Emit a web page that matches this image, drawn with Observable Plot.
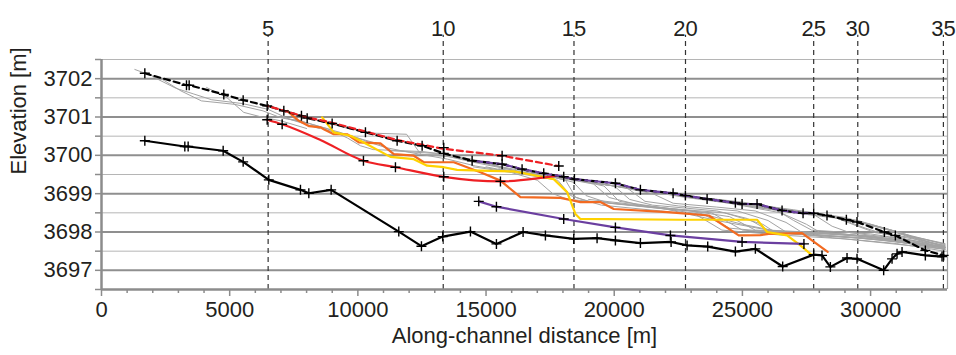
<!DOCTYPE html>
<html><head><meta charset="utf-8">
<script src="https://cdn.jsdelivr.net/npm/d3@7"></script>
<script src="https://cdn.jsdelivr.net/npm/@observablehq/plot@0.6"></script>
<style>body{margin:0;background:#fff}</style>
</head><body><div id="chart"></div>
<script>
// ---- data (along-channel distance [m], elevation [m]) ----
const topProfile = [[1690,3702.14],[3315,3701.83],[3420,3701.83],[4770,3701.59],[5526,3701.44],[6463,3701.29],[7112,3701.16],[7800,3701.03],[8023,3700.97],[8997,3700.83],[10296,3700.60],[11532,3700.38],[12507,3700.25],[13350,3700.05],[14457,3699.86],[15627,3699.77],[16406,3699.64],[17250,3699.53],[18030,3699.44],[18447,3699.38],[20046,3699.27],[21021,3699.10],[22296,3699.01],[22776,3698.95],[23623,3698.86],[24726,3698.76],[24987,3698.73],[25572,3698.73],[26547,3698.56],[27366,3698.49],[27780,3698.49],[28300,3698.43],[29055,3698.32],[29471,3698.26],[30537,3698.00],[30966,3697.91],[32136,3697.52],[32850,3697.39]];
const bottomProfile = [[1690,3700.38],[3250,3700.23],[3380,3700.23],[4746,3700.12],[5526,3699.83],[6526,3699.36],[7761,3699.10],[8087,3699.01],[8958,3699.10],[11596,3698.01],[12480,3697.63],[13311,3697.88],[14391,3698.01],[15405,3697.69],[16445,3698.00],[17316,3697.91],[18422,3697.82],[19331,3697.84],[20046,3697.78],[21021,3697.71],[22218,3697.74],[22842,3697.65],[23647,3697.62],[24726,3697.49],[25506,3697.56],[26571,3697.10],[27780,3697.41],[28105,3697.39],[28431,3697.09],[29081,3697.32],[29471,3697.30],[30510,3697.00],[30837,3697.30],[31032,3697.43],[31227,3697.48],[32136,3697.39],[32786,3697.36]];
const redDashed = [[6463,3701.29],[8023,3700.99],[9000,3700.85],[10300,3700.62],[11532,3700.40],[13350,3700.17],[15627,3699.99],[17836,3699.72]];
const redDashedMarks = [[13350,3700.20],[15627,3699.99],[17836,3699.72]];
const redSolid = [[6463,3700.93],[7047,3700.81],[8541,3700.40],[10218,3699.86],[11466,3699.69],[13350,3699.44],[15561,3699.32],[17121,3699.41],[17770,3699.47]];
const redSolidMarks = [[6463,3700.93],[7047,3700.81],[10218,3699.86],[11466,3699.69],[13350,3699.44],[15561,3699.32]];
const orangeProfile = [[7240,3701.16],[7700,3700.90],[8100,3700.76],[8541,3700.73],[8670,3700.68],[9061,3700.55],[9581,3700.55],[10036,3700.34],[10881,3700.31],[11401,3700.03],[12181,3699.99],[12571,3699.82],[13741,3699.82],[14781,3699.56],[15561,3699.34],[16341,3698.91],[17901,3698.89],[18421,3698.82],[18681,3698.78],[19461,3698.78],[19981,3698.60],[22062,3698.52],[23687,3698.43],[24855,3697.91],[25700,3697.92],[26025,3697.95],[27327,3697.97],[28327,3697.48]];
const yellowProfile = [[8607,3700.99],[9061,3700.60],[9711,3700.51],[10101,3700.38],[11271,3699.96],[12181,3699.90],[12702,3699.73],[13350,3699.69],[13872,3699.62],[14781,3699.60],[16081,3699.58],[16731,3699.50],[17641,3699.38],[18161,3699.04],[18486,3698.47],[18681,3698.34],[22581,3698.32],[25572,3698.32],[25962,3698.00],[26742,3697.91],[27262,3697.65],[27718,3697.39]];
const purpleSolid = [[14715,3698.80],[15405,3698.66],[18030,3698.34],[20046,3698.12],[22192,3697.91],[24987,3697.74],[27400,3697.69]];
const purpleDashed = [[14457,3699.86],[15627,3699.77],[16406,3699.64],[17250,3699.53],[18030,3699.44],[18447,3699.38],[20046,3699.27],[21021,3699.10],[22296,3699.01],[22776,3698.95],[23623,3698.86],[24726,3698.76],[24987,3698.73],[25572,3698.73],[26547,3698.56],[27366,3698.49],[27780,3698.49]];
const grayLines = [
  [[1300,3702.24],[2400,3701.97],[3100,3701.68],[3900,3701.42],[5200,3701.33],[6300,3701.16],[7000,3700.98],[8000,3700.85]],
  [[2000,3702.05],[2900,3701.75],[3600,3701.60],[4300,3701.45],[5500,3701.35],[6500,3701.20],[7300,3700.95],[8500,3700.70]],
  [[4100,3701.77],[4900,3701.50],[5550,3701.12],[6300,3700.99],[7000,3700.90],[8000,3700.70]],
  [[7000,3701.00],[8000,3700.85],[8800,3700.70],[9600,3700.45],[10100,3700.25],[10600,3700.15],[12500,3700.10],[13500,3700.02],[14800,3699.85],[15600,3699.70]],
  [[7500,3700.95],[8500,3700.75],[9300,3700.60],[10000,3700.45],[10800,3700.30],[11300,3700.12],[13000,3700.05],[14500,3699.82],[16000,3699.62]],
  [[8500,3700.90],[9500,3700.72],[10500,3700.58],[11900,3700.55],[12450,3700.03],[13800,3699.95],[15200,3699.75],[16500,3699.55]],
  [[8200,3700.78],[9000,3700.62],[9800,3700.50],[10400,3700.35],[11100,3700.20],[12000,3700.08],[13500,3699.90],[14600,3699.72],[15500,3699.62]],
  [[14500,3699.70],[16000,3699.55],[17000,3699.35],[17600,3699.00],[18200,3698.85],[20000,3698.75],[22000,3698.60],[24000,3698.30],[26000,3698.05],[28500,3697.90],[31000,3697.75],[32900,3697.55]],
  [[15000,3699.70],[16500,3699.50],[17800,3699.35],[18300,3698.95],[19000,3698.80],[21500,3698.65],[23500,3698.45],[24500,3698.10],[27000,3697.95],[29500,3697.85],[32900,3697.60]],
  [[15500,3699.65],[17500,3699.45],[18400,3699.30],[18900,3698.95],[19800,3698.75],[22000,3698.60],[23800,3698.50],[25000,3698.05],[28000,3697.90],[30500,3697.80],[32900,3697.55]],
  [[16000,3699.60],[18000,3699.40],[19200,3699.25],[19800,3698.90],[21000,3698.70],[23000,3698.55],[24500,3698.40],[25500,3698.05],[28500,3697.95],[31000,3697.80],[32900,3697.60]],
  [[17000,3699.50],[18500,3699.35],[20000,3699.20],[20600,3698.85],[21500,3698.70],[24000,3698.55],[25200,3698.35],[26000,3698.05],[29000,3697.95],[32900,3697.60]],
  [[17500,3699.45],[19000,3699.30],[20500,3699.15],[21200,3698.80],[22500,3698.68],[24800,3698.55],[26000,3698.30],[26700,3698.00],[29500,3697.90],[32900,3697.62]],
  [[18000,3699.40],[20000,3699.20],[21500,3699.00],[22300,3698.75],[24000,3698.65],[25500,3698.55],[26700,3698.25],[27300,3698.00],[30000,3697.90],[32900,3697.60]],
  [[18500,3699.35],[21000,3699.10],[22800,3698.90],[24500,3698.75],[26500,3698.50],[27500,3698.20],[28000,3698.00],[30500,3697.85],[32900,3697.58]],
  [[19000,3699.30],[22000,3699.00],[24000,3698.80],[26000,3698.60],[27800,3698.45],[28500,3698.15],[29200,3697.98],[31500,3697.80],[32900,3697.60]],
  [[20000,3699.20],[23000,3698.92],[25000,3698.70],[27000,3698.50],[28800,3698.35],[29800,3698.10],[30500,3697.95],[32000,3697.78],[32900,3697.65]],
  [[21000,3699.10],[24000,3698.85],[26000,3698.65],[28000,3698.45],[29800,3698.22],[30800,3698.05],[31500,3697.90],[32900,3697.70]],
  [[22000,3699.00],[25000,3698.78],[27000,3698.55],[29000,3698.35],[30300,3698.12],[31600,3697.90],[32900,3697.68]],
  [[23000,3698.92],[26000,3698.65],[28000,3698.48],[30000,3698.20],[31200,3697.98],[32200,3697.75],[32900,3697.60]],
  [[24000,3698.85],[27000,3698.58],[29000,3698.38],[30500,3698.10],[31800,3697.80],[32900,3697.55]],
  [[19000,3698.85],[21000,3698.70],[23000,3698.55],[25000,3698.20],[26500,3698.00],[28500,3697.85],[31000,3697.70],[32900,3697.50]],
  [[25500,3698.02],[28000,3697.98],[30000,3697.88],[31500,3697.78],[32900,3697.58]],
  [[15200,3699.75],[17200,3699.50],[18100,3699.35],[18500,3698.90],[19500,3698.70],[21800,3698.55],[23200,3698.45],[24200,3698.05],[26500,3697.92],[29000,3697.82],[32900,3697.55]],
  [[16500,3699.55],[18700,3699.33],[19600,3699.20],[20200,3698.80],[22000,3698.62],[24300,3698.50],[25800,3698.20],[26300,3697.98],[29800,3697.85],[32900,3697.58]],
  [[19500,3699.25],[22500,3698.98],[24500,3698.78],[26300,3698.58],[27000,3698.30],[27700,3698.05],[30000,3697.95],[32900,3697.65]],
  [[21500,3699.05],[24500,3698.80],[26800,3698.55],[28600,3698.38],[29500,3698.15],[30200,3697.98],[32000,3697.82],[32900,3697.68]],
  [[25000,3698.75],[27500,3698.50],[29500,3698.30],[30800,3698.05],[32000,3697.78],[32900,3697.62]],
  [[26000,3698.62],[28500,3698.42],[30200,3698.15],[31500,3697.90],[32900,3697.62]]
];
const kmPositions = [6500, 13330, 18430, 22780, 27780, 29500, 32840];
const kmLabels = ["5", "10", "15", "20", "25", "30", "35"];
const xMajorTicks = [0, 5000, 10000, 15000, 20000, 25000, 30000];
const xMinorTicks = [1000,2000,3000,4000,6000,7000,8000,9000,11000,12000,13000,14000,16000,17000,18000,19000,21000,22000,23000,24000,26000,27000,28000,29000,31000,32000];
const yMajorTicks = [3697, 3698, 3699, 3700, 3701, 3702];
const yHalfTicks = [3696.5, 3697.5, 3698.5, 3699.5, 3700.5, 3701.5, 3702.5];

// ---- helpers ----
const rows = (pts, id = 0) => pts.map(([x, y]) => ({x, y, id}));
const grayRows = grayLines.flatMap((pts, i) => rows(pts, i));
const kmRows = kmPositions.map((x, i) => ({x, label: kmLabels[i]}));
const plus = {draw(ctx, size) { const r = Math.sqrt(size / Math.PI); ctx.moveTo(-r, 0); ctx.lineTo(r, 0); ctx.moveTo(0, -r); ctx.lineTo(0, r); }};
const markerRows = [
  ...rows(topProfile), ...rows(bottomProfile), ...rows(redDashedMarks),
  ...rows(redSolidMarks), ...rows(purpleSolid)
];
const txt = "#231f20";
const axisGray = "#8c8c8c";
const fs = 22;

const chart = Plot.plot({
  width: 956, height: 355,
  marginLeft: 101, marginRight: 9, marginTop: 59, marginBottom: 66,
  style: {fontFamily: "'Liberation Sans', Arial, sans-serif", fontSize: fs + "px", color: txt, background: "#fff"},
  x: {domain: [0, 33000]},
  y: {domain: [3696.5, 3702.5]},
  marks: [
    Plot.ruleY(yHalfTicks, {y: d => d, stroke: "#b5b5b5", strokeWidth: 1}),
    Plot.ruleY(yMajorTicks, {y: d => d, stroke: "#8f8f8f", strokeWidth: 2}),
    Plot.ruleX([33000], {x: d => d, stroke: "#a0a0a0", strokeWidth: 1.2}),
    Plot.ruleX(kmRows, {x: "x", y1: () => 3696.5, y2: () => 3703.13, stroke: "#333", strokeWidth: 1.2, strokeDasharray: "5,4"}),
    Plot.line(grayRows, {x: "x", y: "y", z: "id", stroke: "#a3a3a3", strokeWidth: 1}),
    Plot.line(rows(orangeProfile), {x: "x", y: "y", stroke: "#f26a21", strokeWidth: 2.2}),
    Plot.line(rows(yellowProfile), {x: "x", y: "y", stroke: "#ffd200", strokeWidth: 2.2}),
    Plot.line(rows(redSolid), {x: "x", y: "y", stroke: "#ee2024", strokeWidth: 2.2, curve: "monotone-x"}),
    Plot.line(rows(purpleSolid), {x: "x", y: "y", stroke: "#6b3fa0", strokeWidth: 2.2}),
    Plot.line(rows(bottomProfile), {x: "x", y: "y", stroke: "#000", strokeWidth: 2.2}),
    Plot.line(rows(topProfile), {x: "x", y: "y", stroke: "#000", strokeWidth: 2.2, strokeDasharray: "6,4"}),
    Plot.line(rows(redDashed), {x: "x", y: "y", stroke: "#ee2024", strokeWidth: 2.2, strokeDasharray: "6,4", strokeDashoffset: 5}),
    Plot.line(rows(purpleDashed), {x: "x", y: "y", stroke: "#6b3fa0", strokeWidth: 2.2, strokeDasharray: "5,5", strokeDashoffset: 5}),
    Plot.dot(markerRows, {x: "x", y: "y", symbol: plus, r: 5, stroke: "#000", strokeWidth: 1.4, fill: "none"}),
    Plot.text(kmRows, {x: "x", frameAnchor: "top", dy: -39, text: "label", fontSize: fs, fill: txt}),
    Plot.ruleX([0], {x: d => d, stroke: axisGray, strokeWidth: 2.5}),
    Plot.ruleY([3696.5], {y: d => d, stroke: axisGray, strokeWidth: 2.5}),
    Plot.axisX(xMajorTicks, {tickSize: 7, tickPadding: 5, stroke: axisGray, strokeWidth: 1.5, fill: txt, fontSize: fs, tickFormat: d => String(d), label: null}),
    Plot.axisX(xMinorTicks, {tickSize: 4, stroke: axisGray, strokeWidth: 1.5, tickFormat: () => "", label: null}),
    Plot.axisY(yMajorTicks, {tickSize: 6, tickPadding: 3, stroke: axisGray, strokeWidth: 1.5, fill: txt, fontSize: fs, tickFormat: d => String(d), label: null}),
    Plot.axisY(yHalfTicks, {tickSize: 6, stroke: axisGray, strokeWidth: 1.5, tickFormat: () => "", label: null}),
    Plot.text(["Elevation [m]"], {text: d => d, frameAnchor: "left", dx: -83, rotate: -90, fontSize: fs, fill: txt}),
    Plot.text(["Along-channel distance [m]"], {text: d => d, frameAnchor: "bottom", dy: 53, fontSize: fs, fill: txt})
  ]
});
document.getElementById("chart").append(chart);
</script>
</body></html>
